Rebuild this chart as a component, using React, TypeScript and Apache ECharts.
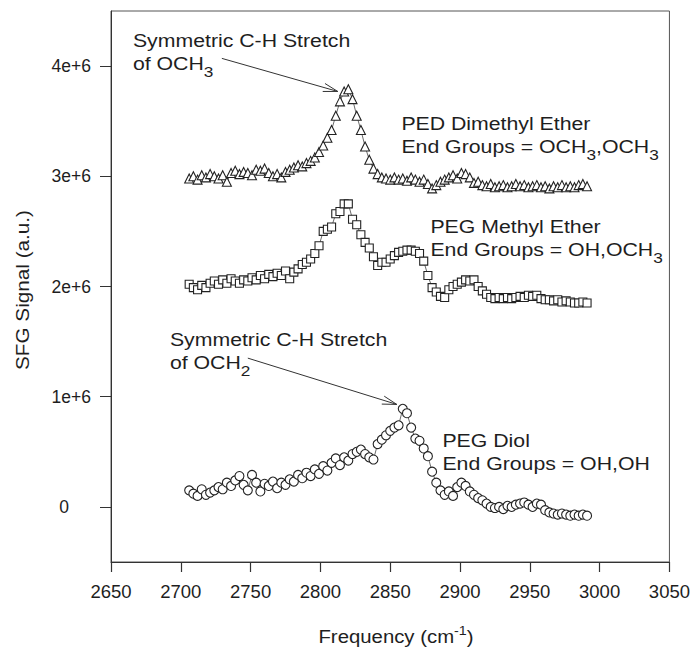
import React, { useEffect, useRef } from "react";
import * as echarts from "echarts";

// Frequency (cm^-1) sampling shared by the three spectra
const frequencies = [
  2706, 2709, 2712, 2715, 2718, 2721, 2724, 2727, 2730, 2733,
  2736, 2739, 2742, 2745, 2748, 2751, 2754, 2757, 2760, 2763,
  2766, 2769, 2772, 2775, 2778, 2781, 2784, 2787, 2790, 2793,
  2796, 2799, 2802, 2805, 2808, 2811, 2814, 2817, 2820, 2823,
  2826, 2829, 2832, 2835, 2838, 2841, 2844, 2847, 2850, 2853,
  2856, 2859, 2862, 2865, 2868, 2871, 2874, 2877, 2880, 2883,
  2886, 2889, 2892, 2895, 2898, 2901, 2904, 2907, 2910, 2913,
  2916, 2919, 2922, 2925, 2928, 2931, 2934, 2937, 2940, 2943,
  2946, 2949, 2952, 2955, 2958, 2961, 2964, 2967, 2970, 2973,
  2976, 2979, 2982, 2985, 2988, 2991,
];

// SFG signal in units of 1e+6 (a.u.)
const pedDimethylEther = [
  2.98, 3.0, 2.97, 3.01, 2.99, 3.02, 3.0, 2.98, 3.01, 2.95,
  3.03, 3.05, 3.02, 3.04, 3.03, 3.01, 3.06, 3.05, 3.07, 3.03,
  3.0, 3.02, 2.99, 3.04, 3.06, 3.08, 3.1, 3.09, 3.12, 3.14,
  3.17, 3.22, 3.28, 3.35, 3.42, 3.55, 3.68, 3.77, 3.79, 3.7,
  3.55, 3.42, 3.27, 3.15, 3.07, 3.02, 2.99, 2.98, 2.97, 2.99,
  2.97, 2.98, 2.96, 2.99, 2.97, 2.95, 2.97, 2.93, 2.89, 2.92,
  2.95, 2.97, 2.99, 3.01, 2.98, 3.03, 3.02, 2.99, 2.94, 2.95,
  2.92, 2.91, 2.93, 2.9, 2.91, 2.92, 2.9, 2.91, 2.93, 2.91,
  2.92, 2.9, 2.91, 2.92, 2.9, 2.91, 2.89, 2.91, 2.9, 2.92,
  2.9, 2.91, 2.9, 2.92, 2.93, 2.91,
];

const pegMethylEther = [
  2.02, 1.99, 1.97, 2.01, 1.99, 2.03, 2.05, 2.02, 2.06, 2.03,
  2.07, 2.05, 2.03, 2.06, 2.05, 2.08, 2.06, 2.1, 2.07, 2.11,
  2.09, 2.12, 2.1, 2.14, 2.07, 2.13, 2.16, 2.2, 2.22, 2.25,
  2.3, 2.37, 2.5, 2.52, 2.54, 2.66, 2.68, 2.75, 2.75, 2.61,
  2.56, 2.47, 2.4, 2.35, 2.27, 2.19, 2.22, 2.22, 2.25, 2.28,
  2.31, 2.32, 2.33, 2.33, 2.32, 2.3, 2.23, 2.1, 1.99, 1.95,
  1.91, 1.9, 1.97, 2.0, 2.02, 2.04, 2.06, 2.05, 2.06, 2.0,
  1.96, 1.93, 1.9, 1.89, 1.9, 1.89, 1.9, 1.89, 1.9, 1.91,
  1.9, 1.92, 1.91, 1.92, 1.89, 1.88, 1.88, 1.87, 1.88, 1.86,
  1.87, 1.86, 1.85, 1.85, 1.86, 1.85,
];

const pegDiol = [
  0.15, 0.12, 0.1, 0.16, 0.11, 0.13, 0.15, 0.18, 0.16, 0.22,
  0.19, 0.24, 0.28, 0.2, 0.15, 0.29, 0.22, 0.14, 0.21, 0.19,
  0.23, 0.17, 0.22, 0.2, 0.25, 0.23, 0.29, 0.26, 0.31, 0.28,
  0.34, 0.3, 0.37, 0.33, 0.4, 0.44, 0.38, 0.45, 0.42, 0.48,
  0.5, 0.52, 0.48, 0.45, 0.43, 0.57, 0.61, 0.65, 0.69, 0.72,
  0.74, 0.89, 0.85, 0.72, 0.62, 0.6, 0.53, 0.46, 0.32, 0.22,
  0.15, 0.11, 0.14, 0.1, 0.18, 0.22, 0.19, 0.14, 0.11, 0.08,
  0.06, 0.03, 0.0, -0.01, 0.0, -0.02, 0.01, 0.0, 0.02, 0.03,
  0.04, 0.02, 0.0, 0.03, 0.02, -0.03, -0.05, -0.06, -0.07, -0.06,
  -0.07, -0.08, -0.07, -0.08, -0.07, -0.08,
];

const yTickValues = [0, 1, 2, 3, 4];
const xMin = 2650;
const xMax = 3050;
const xStep = 50;
const yMin = -0.5;
const yMax = 4.5;

// Annotations: text block top-left anchor in data coords
const annotations = [
  { text: "Symmetric C-H Stretch\nof OCH{sub|3}", at: [2665.7, 4.34] },
  { text: "Symmetric C-H Stretch\nof OCH{sub|2}", at: [2692.2, 1.62] },
  { text: "PED Dimethyl Ether\nEnd Groups = OCH{sub|3},OCH{sub|3}", at: [2858.0, 3.58] },
  { text: "PEG Methyl Ether\nEnd Groups = OH,OCH{sub|3}", at: [2878.8, 2.65] },
  { text: "PEG Diol\nEnd Groups = OH,OH", at: [2887.4, 0.71] },
];
const arrows = [
  { from: [2729.4, 4.07], to: [2812.4, 3.77] },
  { from: [2748.0, 1.35], to: [2854.7, 0.93] },
];

const FONT_FAMILY = '"Liberation Sans", Arial, Helvetica, sans-serif';
const INK = "#1e1e1e";

function makeSeries(name: string, values: number[], symbol: string, size: number) {
  return {
    name,
    type: "line",
    data: frequencies.map((f, i) => [f, values[i]]),
    symbol,
    symbolSize: size,
    showSymbol: true,
    showAllSymbol: true,
    silent: true,
    lineStyle: { color: "#444", width: 0.8 },
    itemStyle: { color: "#fff", borderColor: "#222", borderWidth: 1.1 },
    emphasis: { disabled: true },
  };
}

export default function App() {
  const ref = useRef<HTMLDivElement>(null);
  useEffect(() => {
    const chart = echarts.init(ref.current!, null, { renderer: "svg" });
    const option: any = {
      animation: false,
      backgroundColor: "#fff",
      grid: {
        left: 111,
        right: 23,
        top: 11,
        bottom: 87,
        show: true,
        borderColor: "#555",
        borderWidth: 1,
      },
      xAxis: {
        type: "value",
        min: xMin,
        max: xMax,
        interval: xStep,
        axisLine: { show: true, onZero: false, lineStyle: { color: "#333", width: 1 } },
        axisTick: { show: true, inside: false, length: 10, lineStyle: { color: "#333", width: 1.2 } },
        axisLabel: {
          fontSize: 18.5,
          fontFamily: FONT_FAMILY,
          color: INK,
          margin: 20,
          formatter: (v: number) => String(v),
        },
        splitLine: { show: false },
      },
      yAxis: {
        type: "value",
        min: yMin,
        max: yMax,
        axisLine: { show: true, lineStyle: { color: "#333", width: 1 } },
        axisTick: {
          show: true,
          inside: false,
          length: 11,
          customValues: yTickValues,
          lineStyle: { color: "#333", width: 1 },
        },
        axisLabel: {
          customValues: yTickValues,
          fontSize: 17.5,
          fontFamily: FONT_FAMILY,
          color: INK,
          margin: 20,
          formatter: (v: number) => (v === 0 ? "{z|0}" : `${v}e+6`),
          rich: {
            z: { padding: [0, 22, 0, 0], fontSize: 17.5, fontFamily: FONT_FAMILY, color: INK },
          },
        },
        splitLine: { show: false },
      },
      series: [
        makeSeries("PED Dimethyl Ether", pedDimethylEther, "triangle", 9),
        makeSeries("PEG Methyl Ether", pegMethylEther, "rect", 8),
        makeSeries("PEG Diol", pegDiol, "circle", 9),
      ],
    };
    chart.setOption(option);

    const toPx = (p: number[]) => chart.convertToPixel({ gridIndex: 0 }, p) as number[];
    const mainFont = `18.5px ${FONT_FAMILY}`;
    const subFont = `15px ${FONT_FAMILY}`;
    const supFont = `13px ${FONT_FAMILY}`;
    const elements: any[] = [];

    annotations.forEach((a) => {
      const [x, y] = toPx(a.at);
      elements.push({
        type: "text",
        x,
        y,
        scaleX: 1.15,
        silent: true,
        style: {
          text: a.text,
          font: mainFont,
          fill: INK,
          align: "left",
          verticalAlign: "top",
          lineHeight: 23,
          rich: {
            sub: {
              font: subFont,
              fontSize: 15,
              fontFamily: FONT_FAMILY,
              fill: INK,
              lineHeight: 23,
              padding: [16, 0, 0, 0],
            },
          },
        },
      });
    });

    arrows.forEach((ar) => {
      const [x1, y1] = toPx(ar.from);
      const [x2, y2] = toPx(ar.to);
      const ang = Math.atan2(y2 - y1, x2 - x1);
      const len = 15;
      const spread = (16 * Math.PI) / 180;
      const pA = [x2 - len * Math.cos(ang - spread), y2 - len * Math.sin(ang - spread)];
      const pB = [x2 - len * Math.cos(ang + spread), y2 - len * Math.sin(ang + spread)];
      elements.push({
        type: "line",
        silent: true,
        shape: { x1, y1, x2, y2 },
        style: { stroke: "#333", lineWidth: 1 },
      });
      elements.push({
        type: "polyline",
        silent: true,
        shape: { points: [pA, [x2, y2], pB] },
        style: { stroke: "#333", lineWidth: 1, fill: null },
      });
    });

    // Axis titles
    elements.push({
      type: "text",
      x: 396,
      y: 636,
      scaleX: 1.1,
      silent: true,
      style: {
        text: "Frequency (cm{sup|-1})",
        font: mainFont,
        fill: INK,
        align: "center",
        verticalAlign: "middle",
        lineHeight: 23,
        rich: {
          sup: {
            font: supFont,
            fontSize: 13,
            fontFamily: FONT_FAMILY,
            fill: INK,
            lineHeight: 23,
            padding: [0, 0, 10, 0],
          },
        },
      },
    });
    elements.push({
      type: "text",
      x: 22,
      y: 290,
      rotation: Math.PI / 2,
      scaleX: 1.12,
      silent: true,
      style: {
        text: "SFG Signal (a.u.)",
        font: mainFont,
        fill: INK,
        align: "center",
        verticalAlign: "middle",
      },
    });

    chart.setOption({ graphic: elements });
    return () => chart.dispose();
  }, []);

  return (
    <div
      ref={ref}
      style={{ position: "fixed", left: 0, top: 0, width: 693, height: 649, background: "#fff" }}
    />
  );
}
